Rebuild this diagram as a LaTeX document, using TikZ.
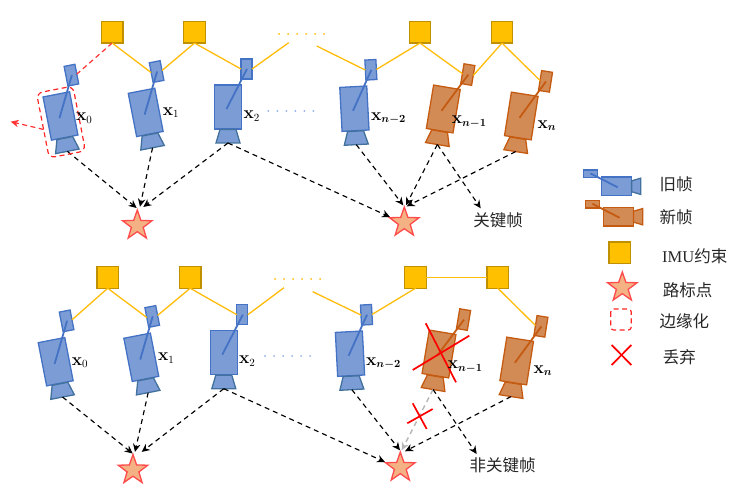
\documentclass[tikz,border=0pt]{standalone}
\usepackage[no-math]{fontspec}
\usepackage{bm}
\setmainfont{Liberation Serif}
\newfontfamily\cjk{Noto Sans CJK SC}
\usetikzlibrary{arrows.meta,shapes.geometric,calc}
\definecolor{bfill}{HTML}{7C9CD6}
\definecolor{bdraw}{HTML}{4472C4}
\definecolor{blens}{HTML}{41719C}
\definecolor{ofill}{HTML}{D38B55}
\definecolor{odraw}{HTML}{C55A11}
\definecolor{sqfill}{HTML}{FFC000}
\definecolor{sqdraw}{HTML}{BF9000}
\definecolor{stfill}{HTML}{F4B183}
\definecolor{stdraw}{HTML}{FF4B4B}
\definecolor{imuline}{HTML}{FFBC0A}
\definecolor{dotblue}{HTML}{8FB0EA}
\tikzset{
  sq/.style={draw=sqdraw,fill=sqfill,line width=1.4pt,minimum size=21.5pt,inner sep=0pt,outer sep=0pt},
  landmark/.style={star,star points=5,star point ratio=2.5,draw=stdraw,fill=stfill,line width=1.3pt,minimum size=31pt,inner sep=0pt,outer sep=0pt},
  imu/.style={imuline,line width=1.3pt},
  ray/.style={black,line width=1.15pt,dash pattern=on 5pt off 4pt,-{Stealth[length=8pt,width=7.5pt]}},
  grayray/.style={ray,color=black!28,line width=1.5pt},
  xlab/.style={anchor=west,inner sep=0pt,font=\fontsize{16}{16}\selectfont},
  cjklab/.style={inner sep=0pt,font=\cjk\fontsize{16.5}{17}\selectfont,text=black!85},
  legendlab/.style={anchor=west,inner sep=0pt,font=\cjk\fontsize{16.5}{17}\selectfont,text=black!85},
  redx/.style={red,line width=1.7pt},
  marg/.style={draw=red!85!white,line width=1.2pt,dash pattern=on 5pt off 3.5pt,rounded corners=6pt},
  dotsorange/.style={imuline,line width=2pt,line cap=round,dash pattern=on 0.01pt off 9pt},
  dotsblue/.style={dotblue,line width=2pt,line cap=round,dash pattern=on 0.01pt off 9pt},
}
% name, x, y, angle, scale, fill, draw, lens draw
\newcommand{\cam}[8]{%
  \begin{scope}[shift={(#2,#3)},rotate=#4,scale=#5]
    \draw[draw=#7,fill=#6,line width=1.3pt] (-13.5,-22) rectangle (13.5,22);
    \draw[draw=#8,fill=#6,line width=1.3pt] (-8,22.5) -- (8,22.5) -- (12,36) -- (-12,36) -- cycle;
    \node[transform shape,draw=#7,fill=#6,line width=1.3pt,minimum width=11pt,minimum height=20pt,inner sep=0pt,outer sep=0pt] (#1-s) at (18.5,-38) {};
    \draw[draw=#7,line width=1.8pt] (-1.5,2) -- (19,-38);
    \coordinate (#1-l) at (0,36);
  \end{scope}}
\newcommand{\bcam}[4]{\cam{#1}{#2}{#3}{#4}{1}{bfill}{bdraw}{blens}}
\newcommand{\ocam}[4]{\cam{#1}{#2}{#3}{#4}{1}{ofill}{odraw}{odraw}}
\begin{document}
\begin{tikzpicture}[x=1pt,y=-1pt]
\useasboundingbox (0,0) rectangle (745,494);
% ---------- top row
\node[sq] (a1) at (112.2,32.3) {};
\node[sq] (a2) at (194.5,32.3) {};
\node[sq] (a3) at (420,32.3) {};
\node[sq] (a4) at (502,32.3) {};
\bcam{t0}{60.5}{116}{11}
\bcam{t1}{145.7}{112.4}{11}
\bcam{t2}{228}{107}{0}
\bcam{t3}{354.4}{108.7}{3}
\ocam{t4}{443.3}{109}{-9.5}
\ocam{t5}{521.3}{116}{-9}
\draw[red!80!white,line width=1.2pt,dash pattern=on 5pt off 3.5pt] (a1.south) -- (t0-s.east);
\draw[imu] (a1.south) -- (t1-s.west);
\draw[imu] (a2.south) -- (t1-s.east);
\draw[imu] (a2.south) -- (t2-s.west);
\coordinate (ta) at (288.7,42.7);
\coordinate (tb) at (316.7,46);
\draw[imu] (ta) -- (t2-s.east);
\draw[imu] (tb) -- (t3-s.west);
\draw[imu] (a3.south) -- (t3-s.east);
\draw[imu] (a3.south) -- (t4-s.west);
\draw[imu] (a4.south) -- (t4-s.east);
\draw[imu] (a4.south) -- (t5-s.west);
\coordinate (td1) at (279,34); \coordinate (td2) at (325,34);
\draw[dotsorange] (td1) -- (td2);
\coordinate (te1) at (268.3,111.5); \coordinate (te2) at (314,111.5);
\draw[dotsblue] (te1) -- (te2);
\node[landmark] (s1) at (137.3,225.5) {};
\node[landmark] (s2) at (404.3,222.5) {};
\node[cjklab] (kf) at (498,220) {关键帧};
\coordinate (kft) at (480.7,208.3);
\draw[ray] (t0-l) -- ([shift={(-0.6pt,2pt)}]s1.north);
\draw[ray] (t1-l) -- ([shift={(2.7pt,3.3pt)}]s1.north);
\draw[ray] (t2-l) -- ([shift={(6pt,3pt)}]s1.north);
\draw[ray] (t2-l) -- ([shift={(-14.3pt,-10pt)}]s2.north);
\draw[ray] (t3-l) -- ([shift={(-1pt,1.7pt)}]s2.north);
\draw[ray] (t4-l) -- ([shift={(1.7pt,1.7pt)}]s2.north);
\draw[ray] (t4-l) -- (kft);
\draw[ray] (t5-l) -- ([shift={(2.4pt,0.7pt)}]s2.north);
% marginalisation box
\begin{scope}[shift={(61,122)},rotate=11]
  \draw[marg] (-18.5,-33) rectangle (18.5,33);
  \coordinate (mbw) at (-18.5,4);
\end{scope}
\coordinate (mout) at (10.7,121.7);
\draw[red!80!white,line width=1.2pt,dash pattern=on 5pt off 3.5pt,-{Stealth[length=8pt,width=7.5pt]}] (mbw) -- (mout);
\node[xlab] (tl0) at (76,118) {$\mathbf{x}_{0}$};
\node[xlab] (tl1) at (162.7,112.7) {$\mathbf{x}_{1}$};
\node[xlab] (tl2) at (243.3,116) {$\mathbf{x}_{2}$};
\node[xlab] (tl3) at (371,118.3) {$\mathbf{x}_{\bm{n-2}}$};
\node[xlab] (tl4) at (451.7,121.7) {$\mathbf{x}_{\bm{n-1}}$};
\node[xlab] (tl5) at (537.3,125.7) {$\mathbf{x}_{\bm{n}}$};
% ---------- bottom row
\node[sq] (b1) at (107.7,277.5) {};
\node[sq] (b2) at (190.2,277.5) {};
\node[sq] (b3) at (415.5,277.5) {};
\node[sq] (b4) at (497.8,277.5) {};
\bcam{u0}{55.7}{361.7}{11}
\bcam{u1}{141.3}{357.3}{11}
\bcam{u2}{223.8}{352.7}{0}
\bcam{u3}{350}{353.7}{3}
\ocam{u4}{439}{354}{-9.5}
\ocam{u5}{516.7}{361}{-9}
\draw[imu] (b1.south) -- (u0-s.east);
\draw[imu] (b1.south) -- (u1-s.west);
\draw[imu] (b2.south) -- (u1-s.east);
\draw[imu] (b2.south) -- (u2-s.west);
\coordinate (ua) at (284,287.7);
\coordinate (ub) at (312.7,291.7);
\draw[imu] (ua) -- (u2-s.east);
\draw[imu] (ub) -- (u3-s.west);
\draw[imu] (b3.south) -- (u3-s.east);
\draw[imu] (b3.east) -- (b4.west);
\draw[imu] (b4.south) -- (u5-s.west);
\coordinate (ud1) at (275,279); \coordinate (ud2) at (321,279);
\draw[dotsorange] (ud1) -- (ud2);
\coordinate (ue1) at (265,356.5); \coordinate (ue2) at (311,356.5);
\draw[dotsblue] (ue1) -- (ue2);
\node[landmark] (s3) at (133,470) {};
\node[landmark] (s4) at (400.3,467.5) {};
\node[cjklab] (nkf) at (502.5,465) {非关键帧};
\coordinate (nkft) at (476.7,454);
\draw[ray] (u0-l) -- ([shift={(-0.3pt,1pt)}]s3.north);
\draw[ray] (u1-l) -- ([shift={(2pt,2.6pt)}]s3.north);
\draw[ray] (u2-l) -- ([shift={(8.7pt,2.6pt)}]s3.north);
\draw[ray] (u2-l) -- ([shift={(-15.3pt,-10pt)}]s4.north);
\draw[ray] (u3-l) -- ([shift={(-0.3pt,1.7pt)}]s4.north);
\draw[grayray] (u4-l) -- ([shift={(1.4pt,1.7pt)}]s4.north);
\draw[ray] (u4-l) -- (nkft);
\draw[ray] (u5-l) -- ([shift={(4.7pt,0.7pt)}]s4.north);
\coordinate (c1a) at (425.7,323.3); \coordinate (c1b) at (456,382.3);
\coordinate (c2a) at (412.7,370); \coordinate (c2b) at (469.3,335.7);
\draw[redx] (c1a) -- (c1b);
\draw[redx] (c2a) -- (c2b);
\coordinate (c3a) at (412.7,403.3); \coordinate (c3b) at (426.7,429);
\coordinate (c4a) at (407.3,423.3); \coordinate (c4b) at (432.7,409);
\draw[redx] (c3a) -- (c3b);
\draw[redx] (c4a) -- (c4b);
\node[xlab] (ul0) at (71.7,362.7) {$\mathbf{x}_{0}$};
\node[xlab] (ul1) at (158,358.3) {$\mathbf{x}_{1}$};
\node[xlab] (ul2) at (239,361) {$\mathbf{x}_{2}$};
\node[xlab] (ul3) at (366,363.3) {$\mathbf{x}_{\bm{n-2}}$};
\node[xlab] (ul4) at (447.7,366.7) {$\mathbf{x}_{\bm{n-1}}$};
\node[xlab] (ul5) at (533.3,370.7) {$\mathbf{x}_{\bm{n}}$};
% ---------- legend
\cam{k1}{616.3}{186.3}{90}{0.68}{bfill}{bdraw}{blens}
\cam{k2}{618.2}{216.7}{90}{0.68}{ofill}{odraw}{odraw}
\node[sq] (k3) at (619.7,252.8) {};
\node[landmark] (k4) at (622.3,287.5) {};
\draw[marg,rounded corners=3pt] (610.7,309) rectangle (631.3,330);
\coordinate (k5a) at (611.7,345); \coordinate (k5b) at (631.3,365);
\coordinate (k5c) at (611.7,365); \coordinate (k5d) at (631.3,345);
\draw[redx] (k5a) -- (k5b);
\draw[redx] (k5c) -- (k5d);
\node[legendlab] (lt1) at (659.3,184) {旧帧};
\node[legendlab] (lt2) at (659.3,217.3) {新帧};
\node[legendlab] (lt3) at (662,256) {{\rmfamily IMU}约束};
\node[legendlab] (lt4) at (662.7,290) {路标点};
\node[legendlab] (lt5) at (659.3,321) {边缘化};
\node[legendlab] (lt6) at (662.7,356.7) {丢弃};
\end{tikzpicture}
\end{document}
